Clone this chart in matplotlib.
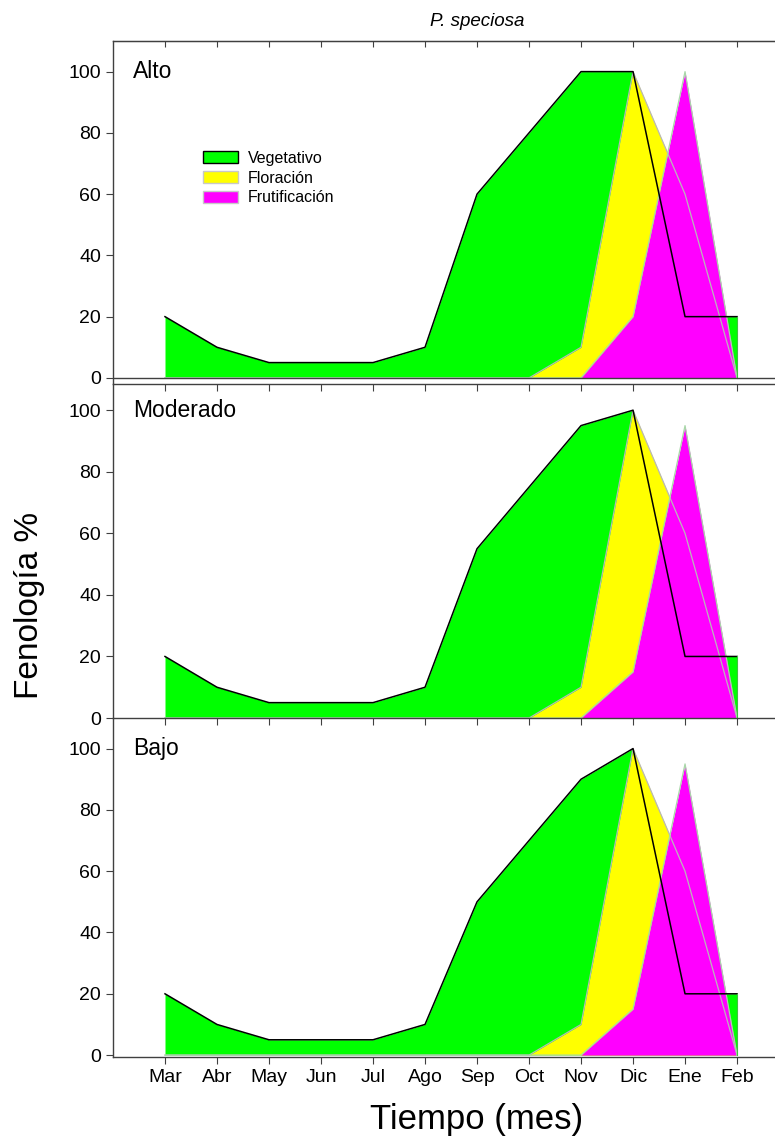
import numpy as np
import matplotlib
matplotlib.use("Agg")
import matplotlib.pyplot as plt
from matplotlib.patches import Patch

plt.rcParams['font.family'] = ['Liberation Sans', 'DejaVu Sans']

meses = ['Mar', 'Abr', 'May', 'Jun', 'Jul', 'Ago', 'Sep', 'Oct', 'Nov', 'Dic', 'Ene', 'Feb']
niveles = ['Alto', 'Moderado', 'Bajo']

# fenologia (%) por mes para cada nivel
veg_alto = [20, 10, 5, 5, 5, 10, 60, 80, 100, 100, 20, 20]
flo_alto = [0, 0, 0, 0, 0, 0, 0, 0, 10, 100, 60, 0]
fru_alto = [0, 0, 0, 0, 0, 0, 0, 0, 0, 20, 100, 0]

veg_mod = [20, 10, 5, 5, 5, 10, 55, 75, 95, 100, 20, 20]
flo_mod = [0, 0, 0, 0, 0, 0, 0, 0, 10, 100, 60, 0]
fru_mod = [0, 0, 0, 0, 0, 0, 0, 0, 0, 15, 95, 0]

veg_bajo = [20, 10, 5, 5, 5, 10, 50, 70, 90, 100, 20, 20]
flo_bajo = [0, 0, 0, 0, 0, 0, 0, 0, 10, 100, 60, 0]
fru_bajo = [0, 0, 0, 0, 0, 0, 0, 0, 0, 15, 95, 0]

datos = [(veg_alto, flo_alto, fru_alto),
         (veg_mod, flo_mod, fru_mod),
         (veg_bajo, flo_bajo, fru_bajo)]

verde = '#00ff00'
amarillo = '#ffff00'
magenta = '#ff00ff'
gris = '#404040'

fig = plt.figure(figsize=(7.75, 11.45), dpi=100)

# posiciones de los tres paneles (izq, abajo, ancho, alto)
pos = [[0.1458, 0.6646, 0.8542, 0.2996],
       [0.1458, 0.3729, 0.8542, 0.2917],
       [0.1458, 0.0769, 0.8542, 0.2961]]
ylims = [(-2, 110), (0, 108.5), (-0.6, 110)]

x = np.arange(len(meses))

for i, (veg, flo, fru) in enumerate(datos):
    ax = fig.add_axes(pos[i])
    ax.patch.set_visible(False)
    ax.fill_between(x, 0, veg, color=verde, lw=0)
    ax.fill_between(x, 0, flo, color=amarillo, lw=0)
    ax.fill_between(x, 0, fru, color=magenta, lw=0)
    # bordes de las areas
    ax.plot(x, flo, color='#b8b8b8', lw=0.9)
    ax.plot(x, fru, color='#a8d8a8', lw=0.9)
    ax.plot(x, veg, color='black', lw=1.1)
    ax.plot([x[-1], x[-1]], [0, veg[-1]], color='#40c040', lw=0.8)
    if i == 0:
        ax.axhline(0, color=gris, lw=1)

    ax.set_xlim(-1, 11.73)
    ax.set_ylim(*ylims[i])
    ax.set_yticks([0, 20, 40, 60, 80, 100])
    ax.set_xticks(x)
    ax.tick_params(axis='y', direction='out', length=5, labelsize=14, color=gris)
    ax.tick_params(axis='x', direction='out', length=5, labelsize=14, color=gris, pad=4)
    ax.spines['right'].set_visible(False)
    for s in ['left', 'bottom', 'top']:
        ax.spines[s].set_color(gris)
        ax.spines[s].set_linewidth(1)
    if i == 0:
        # marcas hacia dentro en el borde superior
        axt = ax.twiny()
        axt.set_xlim(ax.get_xlim())
        axt.set_xticks(x)
        axt.tick_params(direction='in', length=4, labeltop=False, color=gris)
        for s in ['left', 'right', 'bottom']:
            axt.spines[s].set_visible(False)
        axt.spines['top'].set_color(gris)
    else:
        ax.spines['top'].set_visible(False)
    if i < 2:
        ax.set_xticklabels([])
    else:
        ax.set_xticklabels(meses)

    ax.text(-0.62, 100, niveles[i], fontsize=16.5, va='center', ha='left')

    if i == 0:
        handles = [Patch(facecolor=verde, edgecolor='black', lw=1),
                   Patch(facecolor=amarillo, edgecolor='#c8c8c8', lw=1),
                   Patch(facecolor=magenta, edgecolor='#c8c8c8', lw=1)]
        ax.legend(handles, ['Vegetativo', 'Floración', 'Frutificación'],
                  loc='upper left', bbox_to_anchor=(0.136, 0.68), frameon=False,
                  fontsize=11.5, handlelength=2.2, handleheight=0.8,
                  labelspacing=0.3, handletextpad=0.6, borderpad=0,
                  borderaxespad=0)

fig.text(477 / 775, 1 - 22 / 1145, 'P. speciosa', style='italic', fontsize=13.5,
         ha='center', va='center')
fig.text(30 / 775, 1 - 605 / 1145, 'Fenología %', rotation=90, fontsize=24,
         ha='center', va='center')
fig.text(477 / 775, 1 - 1120 / 1145, 'Tiempo (mes)', fontsize=25,
         ha='center', va='center')

fig.savefig('out.png', dpi=100)
